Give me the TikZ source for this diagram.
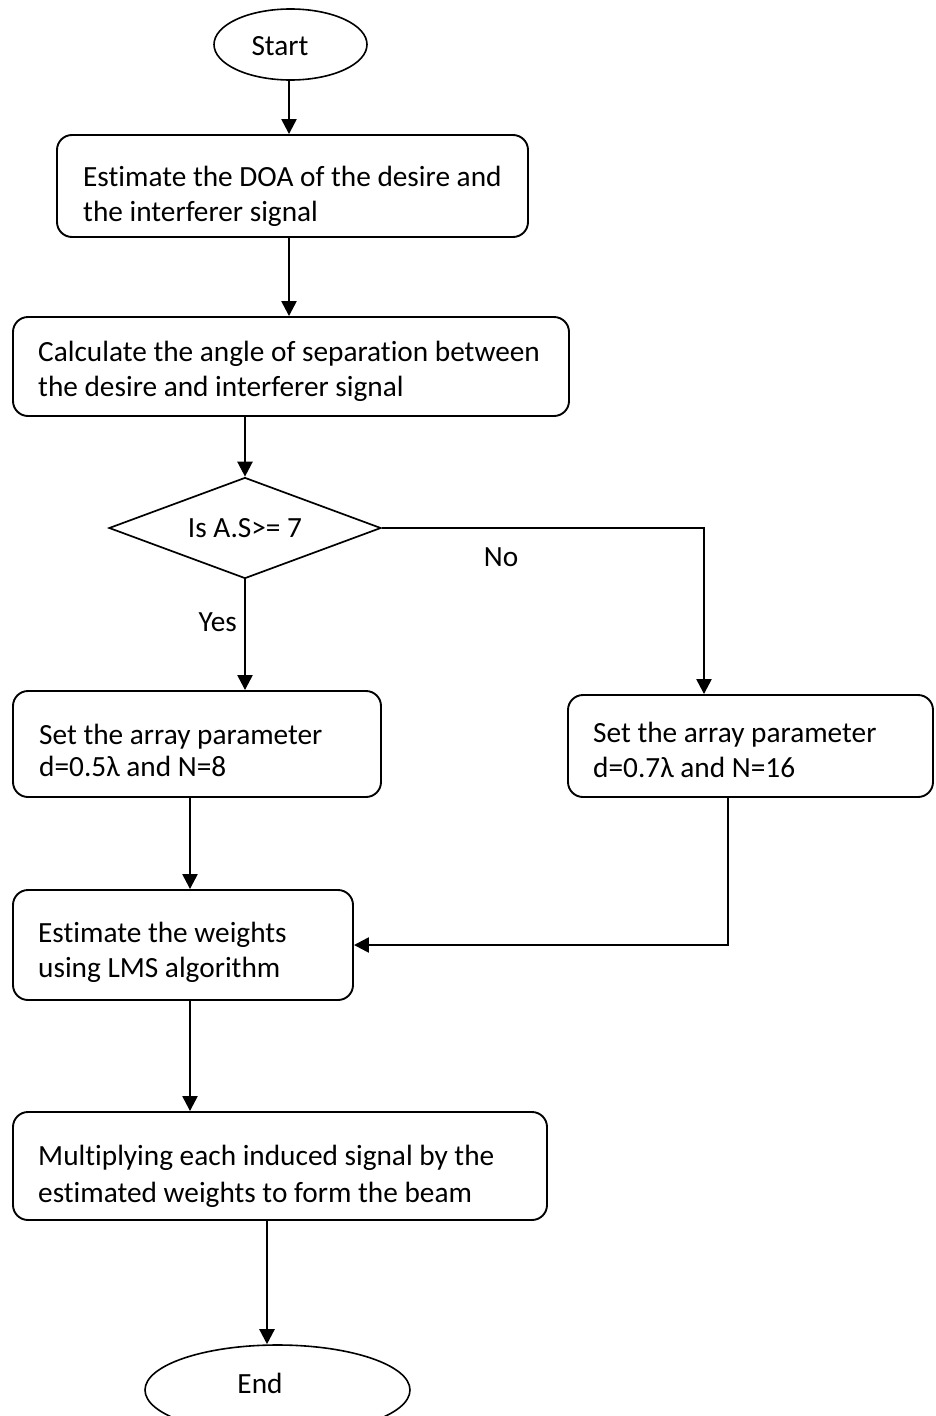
\documentclass[tikz,border=0pt]{standalone}
\usepackage{fontspec}
\setmainfont{Carlito}[Ligatures=CommonOff]
\usetikzlibrary{shapes.geometric,arrows.meta}
\begin{document}
\begin{tikzpicture}[x=1pt,y=-1pt,
  box/.style={draw,line width=1.9pt,rounded corners=15pt,inner sep=0pt},
  term/.style={draw,ellipse,line width=1.6pt,inner sep=0pt},
  decision/.style={draw,diamond,aspect=2.69,line width=1.7pt,inner sep=0pt,font=\fontsize{29.3}{35}\selectfont},
  txt/.style={anchor=base west,inner sep=0pt,font=\fontsize{29.3}{35}\selectfont},
  lbl/.style={inner sep=0pt,font=\fontsize{29.3}{35}\selectfont},
  arr/.style={line width=2.4pt,-{Triangle[length=15pt,width=15pt]}}]
\useasboundingbox (0,0) rectangle (936,1416);

% terminals
\node[term,minimum width=153pt,minimum height=71pt] (start) at (290.5,44.5) {};
\node[lbl] (tstart) at (280,46) {Start};
\node[term,minimum width=265pt,minimum height=90pt] (end) at (277.5,1390) {};
\node[lbl] (tend) at (260,1383) {End};

% process boxes
\node[box,minimum width=471pt,minimum height=102pt] (b1) at (292.5,186) {};
\node[txt] (t1a) at (83,186) {Estimate the DOA of the desire and};
\node[txt] (t1b) at (83,221) {the interferer signal};

\node[box,minimum width=556pt,minimum height=99pt] (b2) at (291,366.5) {};
\node[txt] (t2a) at (38,361) {Calculate the angle of separation between};
\node[txt] (t2b) at (38,396) {the desire and interferer signal};

\node[decision,minimum width=272pt,minimum height=101pt] (dia) at (245,528) {Is A.S>= 7};

\node[box,minimum width=368pt,minimum height=106pt] (b3) at (197,744) {};
\node[txt] (t3a) at (39,744) {Set the array parameter};
\node[txt] (t3b) at (39,776) {d=0.5λ and N=8};

\node[box,minimum width=365pt,minimum height=102pt] (b4) at (750.5,746) {};
\node[txt] (t4a) at (593,742) {Set the array parameter};
\node[txt] (t4b) at (593,777) {d=0.7λ and N=16};

\node[box,minimum width=340pt,minimum height=110pt] (b5) at (183,945) {};
\node[txt] (t5a) at (38,942) {Estimate the weights};
\node[txt] (t5b) at (38,977) {using LMS algorithm};

\node[box,minimum width=534pt,minimum height=108pt] (b6) at (280,1166) {};
\node[txt] (t6a) at (38,1165) {Multiplying each induced signal by the};
\node[txt] (t6b) at (38,1202) {estimated weights to form the beam};

% connector columns
\coordinate (c1) at (289,0);
\coordinate (c2) at (190,0);
\coordinate (c3) at (728,0);
\coordinate (c4) at (267,0);
\coordinate (cno) at (704,0);

% connectors
\draw[arr] (start.south -| c1) -- (c1 |- b1.north);
\draw[arr] (b1.south -| c1) -- (c1 |- b2.north);
\draw[arr] (dia.north |- b2.south) -- (dia.north);
\draw[arr] (dia.south) -- node[lbl,pos=0.39,left=7pt] (yes) {Yes} (dia.south |- b3.north);
\draw[arr] (dia.east) -| (cno |- b4.north);
\node[lbl] (no) at (501,557) {No};
\draw[arr] (b3.south -| c2) -- (c2 |- b5.north);
\draw[arr] (b4.south -| c3) |- (b5.east);
\draw[arr] (b5.south -| c2) -- (c2 |- b6.north);
\draw[arr] (b6.south -| c4) -- (c4 |- end.north);
\end{tikzpicture}
\end{document}
